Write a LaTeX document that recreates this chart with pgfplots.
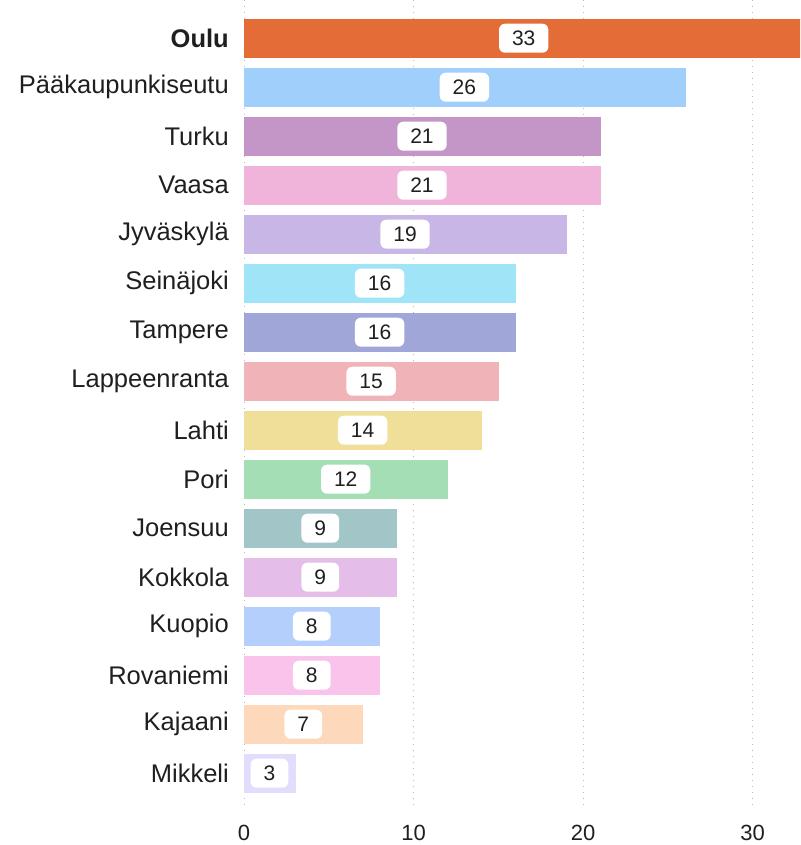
\documentclass[border=0pt]{standalone}
\usepackage{fontspec}
\setmainfont{Liberation Sans}
\usepackage{pgfplots}
\pgfplotsset{compat=1.18}
\usepackage{pgfplotstable}
\definecolor{c0}{HTML}{E46C37}
\definecolor{c1}{HTML}{A0CFFC}
\definecolor{c2}{HTML}{C496C8}
\definecolor{c3}{HTML}{F0B3DA}
\definecolor{c4}{HTML}{C7B6E6}
\definecolor{c5}{HTML}{A0E4F7}
\definecolor{c6}{HTML}{A0A6D8}
\definecolor{c7}{HTML}{F0B3B8}
\definecolor{c8}{HTML}{F0DF98}
\definecolor{c9}{HTML}{A3DEB4}
\definecolor{c10}{HTML}{A2C5C8}
\definecolor{c11}{HTML}{E4BDE8}
\definecolor{c12}{HTML}{B4CFFC}
\definecolor{c13}{HTML}{F9C3EC}
\definecolor{c14}{HTML}{FDD8BA}
\definecolor{c15}{HTML}{E0DEFC}
\pgfplotstableread{
idx v
0 33
1 26
2 21
3 21
4 19
5 16
6 16
7 15
8 14
9 12
10 9
11 9
12 8
13 8
14 7
15 3
}\datatable
\begin{document}
\begin{tikzpicture}[x=1pt,y=1pt]
\path[use as bounding box] (0,0) rectangle (800,845);
\begin{axis}[at={(244pt,38pt)}, anchor=south west, scale only axis,
  width=556pt, height=807pt,
  xmin=0, xmax=32.8, ymin=-0.78, ymax=15.69, y dir=reverse,
  axis line style={draw=none}, major tick length=0pt,
  xmajorgrids, grid style={black!28, line width=1pt, dash pattern=on 1pt off 5pt},
  xtick={0,10,20,30}, ytick={0,...,15},
  yticklabels={\textbf{Oulu},Pääkaupunkiseutu,Turku,Vaasa,Jyväskylä,Seinäjoki,Tampere,Lappeenranta,Lahti,Pori,Joensuu,Kokkola,Kuopio,Rovaniemi,Kajaani,Mikkeli},
  /pgf/number format/assume math mode=true,
  yticklabel style={font=\fontsize{25.5}{29}\selectfont, text=black!88, inner sep=0pt, xshift=-15pt},
  xticklabel style={font=\fontsize{22}{26}\selectfont, text=black!88, inner sep=0pt, yshift=-18pt},
  bar width=38pt, bar shift=0pt,
]
\addplot[xbar, fill=c0, draw=c0] coordinates {(33,0)};
\addplot[xbar, fill=c1, draw=c1] coordinates {(26,1)};
\addplot[xbar, fill=c2, draw=c2] coordinates {(21,2)};
\addplot[xbar, fill=c3, draw=c3] coordinates {(21,3)};
\addplot[xbar, fill=c4, draw=c4] coordinates {(19,4)};
\addplot[xbar, fill=c5, draw=c5] coordinates {(16,5)};
\addplot[xbar, fill=c6, draw=c6] coordinates {(16,6)};
\addplot[xbar, fill=c7, draw=c7] coordinates {(15,7)};
\addplot[xbar, fill=c8, draw=c8] coordinates {(14,8)};
\addplot[xbar, fill=c9, draw=c9] coordinates {(12,9)};
\addplot[xbar, fill=c10, draw=c10] coordinates {(9,10)};
\addplot[xbar, fill=c11, draw=c11] coordinates {(9,11)};
\addplot[xbar, fill=c12, draw=c12] coordinates {(8,12)};
\addplot[xbar, fill=c13, draw=c13] coordinates {(8,13)};
\addplot[xbar, fill=c14, draw=c14] coordinates {(7,14)};
\addplot[xbar, fill=c15, draw=c15] coordinates {(3,15)};
\addplot[only marks, mark=*, mark options={draw=none, fill=none},
  nodes near coords, point meta=explicit symbolic,
  every node near coord/.style={anchor=center, fill=white, rounded corners=6pt,
    inner xsep=13pt, inner ysep=0pt, minimum height=29pt,
    font=\fontsize{21}{25}\selectfont, text=black!88}]
  table[x expr=\thisrow{v}/2, y=idx, meta=v] {\datatable};
\end{axis}
\end{tikzpicture}
\end{document}
